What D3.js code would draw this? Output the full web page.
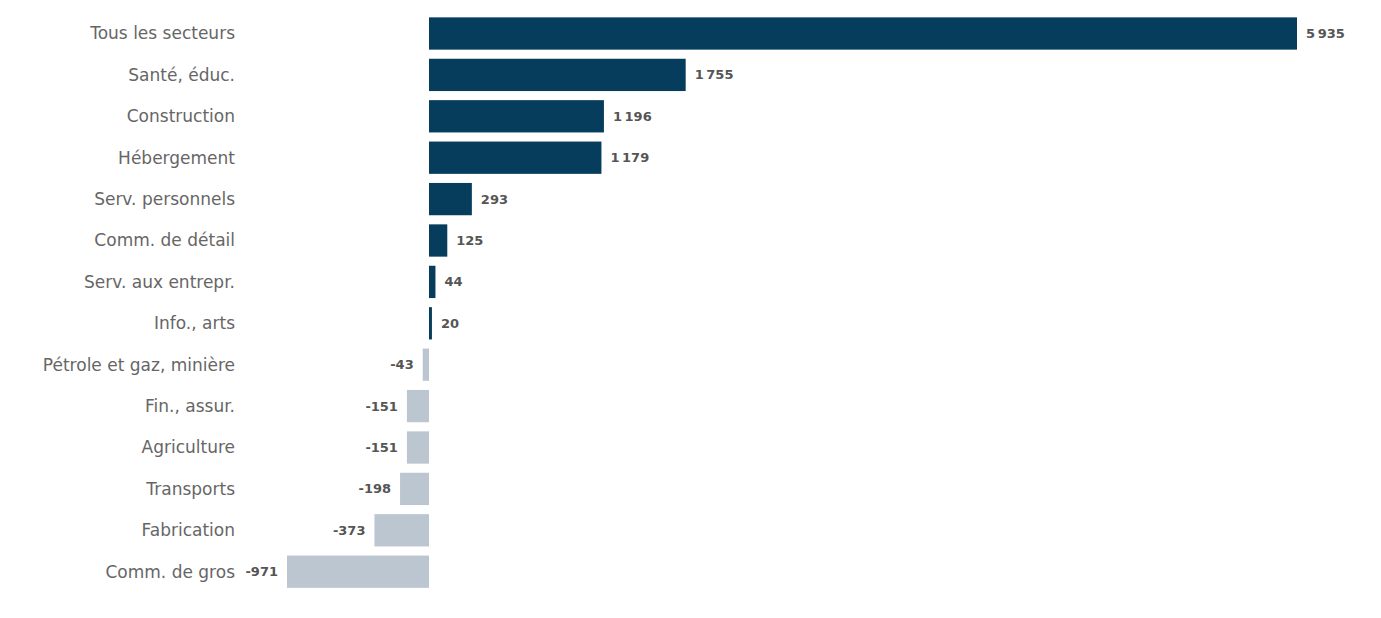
<!DOCTYPE html>
<html>
<head>
<meta charset="utf-8">
<script src="https://cdn.jsdelivr.net/npm/d3@7"></script>
<style>
  body { margin: 0; background: #fff; }
  text { font-family: "DejaVu Sans", sans-serif; }
</style>
</head>
<body>
<svg id="chart" width="1381" height="618"></svg>
<script>
// data
const categories = ["Tous les secteurs", "Santé, éduc.", "Construction", "Hébergement",
  "Serv. personnels", "Comm. de détail", "Serv. aux entrepr.", "Info., arts",
  "Pétrole et gaz, minière", "Fin., assur.", "Agriculture", "Transports",
  "Fabrication", "Comm. de gros"]
const values = [5935, 1755, 1196, 1179, 293, 125, 44, 20, -43, -151, -151, -198, -373, -971]

const svg = d3.select("#chart")

// scales -- zero sits at x=429
const x = d3.scaleLinear().domain([-971, 5935]).range([287, 1297])
const y = d3.scaleBand().domain(categories).range([12.8, 592.4])
    .paddingInner(0.22).paddingOuter(0.11)

const fmt = v => (v < 0 ? "-" : "") + d3.format(",")(Math.abs(v)).replace(/,/g, "\u202f")

const rows = svg.selectAll("g.row")
  .data(categories.map((c, i) => ({c, v: values[i]})))
  .join("g").attr("class", "row")

rows.append("rect")
  .attr("x", d => x(Math.min(0, d.v)))
  .attr("y", d => y(d.c))
  .attr("width", d => Math.abs(x(d.v) - x(0)))
  .attr("height", y.bandwidth())
  .attr("fill", d => d.v >= 0 ? "#073d5c" : "#bcc6d0")

// category labels
rows.append("text")
  .attr("x", 235)
  .attr("y", d => y(d.c) + y.bandwidth() / 2)
  .attr("dy", "0.35em")
  .attr("text-anchor", "end")
  .attr("font-size", 17)
  .attr("fill", "#666")
  .text(d => d.c)

// value labels
rows.append("text")
  .attr("x", d => d.v >= 0 ? x(d.v) + 9 : x(d.v) - 9)
  .attr("y", d => y(d.c) + y.bandwidth() / 2)
  .attr("dy", "0.35em")
  .attr("text-anchor", d => d.v >= 0 ? "start" : "end")
  .attr("font-size", 13)
  .attr("font-weight", "bold")
  .attr("fill", "#555")
  .text(d => fmt(d.v))
</script>
</body>
</html>
